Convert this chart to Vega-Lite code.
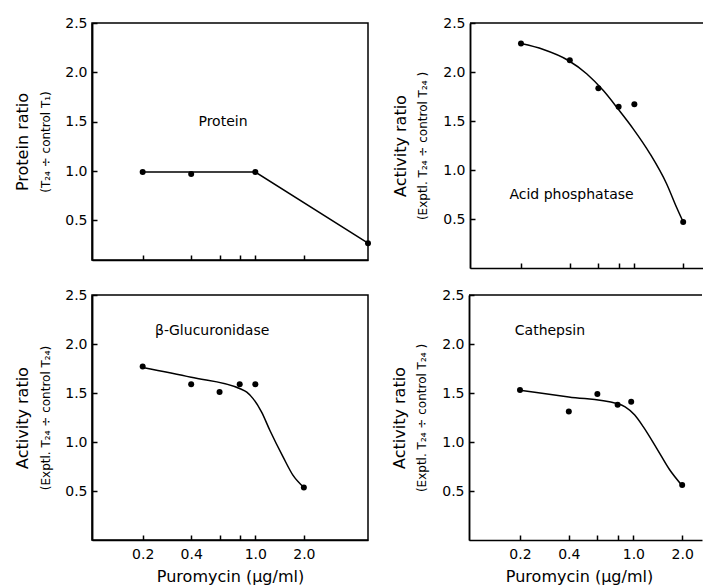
{
  "$schema": "https://vega.github.io/schema/vega-lite/v6.json",
  "background": "white",
  "padding": {"left": 13, "top": 15, "right": 0, "bottom": 2},
  "config": {
    "font": "DejaVu Sans",
    "view": {"stroke": "black", "strokeWidth": 1.5},
    "axis": {
      "grid": false,
      "domainColor": "black",
      "domainWidth": 1.5,
      "tickColor": "black",
      "tickWidth": 1.5,
      "tickSize": -5,
      "labelColor": "black",
      "labelFontSize": 14,
      "labelFont": "DejaVu Sans",
      "titleColor": "black",
      "titleFontSize": 14,
      "titleFontWeight": "normal",
      "titleFont": "DejaVu Sans",
      "minExtent": 0
    },
    "axisX": {"labelPadding": 12, "titleFontSize": 16, "titlePadding": 7},
    "axisY": {"labelPadding": 10}
  },
  "datasets": {
    "points": [
      {"panel": "Protein", "dose": 0.2, "ratio": 0.99},
      {"panel": "Protein", "dose": 0.4, "ratio": 0.97},
      {"panel": "Protein", "dose": 1.0, "ratio": 0.99},
      {"panel": "Protein", "dose": 5.0, "ratio": 0.27},
      {"panel": "Acid", "dose": 0.2, "ratio": 2.29},
      {"panel": "Acid", "dose": 0.4, "ratio": 2.12},
      {"panel": "Acid", "dose": 0.6, "ratio": 1.835},
      {"panel": "Acid", "dose": 0.8, "ratio": 1.645},
      {"panel": "Acid", "dose": 1.0, "ratio": 1.67},
      {"panel": "Acid", "dose": 2.0, "ratio": 0.47},
      {"panel": "Gluc", "dose": 0.2, "ratio": 1.77},
      {"panel": "Gluc", "dose": 0.4, "ratio": 1.59},
      {"panel": "Gluc", "dose": 0.6, "ratio": 1.51},
      {"panel": "Gluc", "dose": 0.8, "ratio": 1.59},
      {"panel": "Gluc", "dose": 1.0, "ratio": 1.59},
      {"panel": "Gluc", "dose": 2.0, "ratio": 0.535},
      {"panel": "Cath", "dose": 0.2, "ratio": 1.53},
      {"panel": "Cath", "dose": 0.4, "ratio": 1.31},
      {"panel": "Cath", "dose": 0.6, "ratio": 1.49},
      {"panel": "Cath", "dose": 0.8, "ratio": 1.38},
      {"panel": "Cath", "dose": 0.97, "ratio": 1.41},
      {"panel": "Cath", "dose": 2.0, "ratio": 0.56}
    ],
    "curves": [
      {"panel": "Protein", "dose": 0.2, "ratio": 0.99},
      {"panel": "Protein", "dose": 1.0, "ratio": 0.99},
      {"panel": "Protein", "dose": 5.0, "ratio": 0.27},
      {"panel": "Acid", "dose": 0.2, "ratio": 2.29},
      {"panel": "Acid", "dose": 0.275, "ratio": 2.23},
      {"panel": "Acid", "dose": 0.39, "ratio": 2.12},
      {"panel": "Acid", "dose": 0.51, "ratio": 1.98},
      {"panel": "Acid", "dose": 0.644, "ratio": 1.81},
      {"panel": "Acid", "dose": 0.796, "ratio": 1.62},
      {"panel": "Acid", "dose": 0.984, "ratio": 1.42},
      {"panel": "Acid", "dose": 1.25, "ratio": 1.165},
      {"panel": "Acid", "dose": 1.58, "ratio": 0.86},
      {"panel": "Acid", "dose": 1.82, "ratio": 0.62},
      {"panel": "Acid", "dose": 2.0, "ratio": 0.47},
      {"panel": "Gluc", "dose": 0.2, "ratio": 1.76},
      {"panel": "Gluc", "dose": 0.4, "ratio": 1.66},
      {"panel": "Gluc", "dose": 0.805, "ratio": 1.543},
      {"panel": "Gluc", "dose": 0.885, "ratio": 1.508},
      {"panel": "Gluc", "dose": 0.971, "ratio": 1.44},
      {"panel": "Gluc", "dose": 1.094, "ratio": 1.305},
      {"panel": "Gluc", "dose": 1.23, "ratio": 1.12},
      {"panel": "Gluc", "dose": 1.486, "ratio": 0.848},
      {"panel": "Gluc", "dose": 1.71, "ratio": 0.662},
      {"panel": "Gluc", "dose": 2.0, "ratio": 0.537},
      {"panel": "Cath", "dose": 0.2, "ratio": 1.528},
      {"panel": "Cath", "dose": 0.4, "ratio": 1.46},
      {"panel": "Cath", "dose": 0.79, "ratio": 1.393},
      {"panel": "Cath", "dose": 0.89, "ratio": 1.359},
      {"panel": "Cath", "dose": 1.02, "ratio": 1.275},
      {"panel": "Cath", "dose": 1.15, "ratio": 1.157},
      {"panel": "Cath", "dose": 1.39, "ratio": 0.938},
      {"panel": "Cath", "dose": 1.67, "ratio": 0.719},
      {"panel": "Cath", "dose": 1.97, "ratio": 0.567}
    ],
    "labels": [
      {"panel": "Protein", "dose": 0.63, "ratio": 1.5, "label": "Protein"},
      {"panel": "Acid", "dose": 0.41, "ratio": 0.75, "label": "Acid  phosphatase"},
      {"panel": "Gluc", "dose": 0.54, "ratio": 2.13, "label": "β-Glucuronidase"},
      {"panel": "Cath", "dose": 0.306, "ratio": 2.13, "label": "Cathepsin"}
    ],
    "frame": [
      {"edge": "top", "ratio": 2.5}
    ]
  },
  "vconcat": [
    {
      "hconcat": [
        {
          "width": 276,
          "height": 237,
          "resolve": {"axis": {"y": "independent"}},
          "layer": [
            {
              "data": {"name": "curves"},
              "transform": [{"filter": "datum.panel == 'Protein'"}],
              "mark": {"type": "line", "color": "black", "strokeWidth": 1.5, "interpolate": "linear"},
              "encoding": {
                "x": {"field": "dose", "type": "quantitative", "scale": {"type": "log", "domain": [0.097, 5], "nice": false}, "axis": {"values": [0.2, 0.4, 0.6, 0.8, 1, 2], "labels": false, "title": null}},
                "y": {"field": "ratio", "type": "quantitative", "scale": {"domain": [0.1, 2.5], "nice": false, "zero": false}, "axis": {"orient": "left", "values": [0.5, 1, 1.5, 2, 2.5], "format": ".1f", "title": "(T₂₄ ÷ control T₁)", "titleFontSize": 12, "titlePadding": 12}}
              }
            },
            {
              "data": {"name": "points"},
              "transform": [{"filter": "datum.panel == 'Protein'"}],
              "mark": {"type": "circle", "color": "black", "size": 36, "opacity": 1},
              "encoding": {
                "x": {"field": "dose", "type": "quantitative"},
                "y": {"field": "ratio", "type": "quantitative", "axis": null}
              }
            },
            {
              "data": {"name": "labels"},
              "transform": [{"filter": "datum.panel == 'Protein'"}],
              "mark": {"type": "text", "fontSize": 14, "color": "black"},
              "encoding": {
                "x": {"field": "dose", "type": "quantitative"},
                "y": {"field": "ratio", "type": "quantitative", "axis": {"orient": "left", "labels": false, "ticks": false, "domain": true, "title": "Protein ratio", "titleFontSize": 16, "titlePadding": 62}},
                "text": {"field": "label"}
              }
            }
          ]
        },
        {
          "width": 233,
          "height": 245,
          "view": {"stroke": null},
          "resolve": {"axis": {"y": "independent"}},
          "layer": [
            {
              "data": {"name": "curves"},
              "transform": [{"filter": "datum.panel == 'Acid'"}],
              "mark": {"type": "line", "color": "black", "strokeWidth": 1.5, "interpolate": "monotone"},
              "encoding": {
                "x": {"field": "dose", "type": "quantitative", "scale": {"type": "log", "domain": [0.097, 2.65], "nice": false}, "axis": {"values": [0.2, 0.4, 0.6, 0.8, 1, 2], "labels": false, "title": null}},
                "y": {"field": "ratio", "type": "quantitative", "scale": {"domain": [0, 2.5], "nice": false, "zero": false}, "axis": {"orient": "left", "values": [0.5, 1, 1.5, 2, 2.5], "format": ".1f", "title": "(Exptl. T₂₄ ÷ control T₂₄ )", "titleFontSize": 12, "titlePadding": 13}}
              }
            },
            {
              "data": {"name": "points"},
              "transform": [{"filter": "datum.panel == 'Acid'"}],
              "mark": {"type": "circle", "color": "black", "size": 36, "opacity": 1},
              "encoding": {
                "x": {"field": "dose", "type": "quantitative"},
                "y": {"field": "ratio", "type": "quantitative", "axis": null}
              }
            },
            {
              "data": {"name": "labels"},
              "transform": [{"filter": "datum.panel == 'Acid'"}],
              "mark": {"type": "text", "fontSize": 14, "color": "black"},
              "encoding": {
                "x": {"field": "dose", "type": "quantitative"},
                "y": {"field": "ratio", "type": "quantitative", "axis": {"orient": "left", "labels": false, "ticks": false, "domain": true, "title": "Activity ratio", "titleFontSize": 16, "titlePadding": 62}},
                "text": {"field": "label"}
              }
            },
            {
              "data": {"name": "frame"},
              "mark": {"type": "rule", "color": "black", "strokeWidth": 1.5},
              "encoding": {
                "y": {"field": "ratio", "type": "quantitative", "axis": null}
              }
            }
          ]
        }
      ],
      "spacing": 20
    },
    {
      "hconcat": [
        {
          "width": 276,
          "height": 245,
          "resolve": {"axis": {"y": "independent"}},
          "layer": [
            {
              "data": {"name": "curves"},
              "transform": [{"filter": "datum.panel == 'Gluc'"}],
              "mark": {"type": "line", "color": "black", "strokeWidth": 1.5, "interpolate": "monotone"},
              "encoding": {
                "x": {"field": "dose", "type": "quantitative", "scale": {"type": "log", "domain": [0.097, 5], "nice": false}, "axis": {"values": [0.2, 0.4, 0.6, 0.8, 1, 2], "labelExpr": "datum.value == 0.6 || datum.value == 0.8 ? '' : format(datum.value, '.1f')", "title": "Puromycin (μg/ml)"}},
                "y": {"field": "ratio", "type": "quantitative", "scale": {"domain": [0, 2.5], "nice": false, "zero": false}, "axis": {"orient": "left", "values": [0.5, 1, 1.5, 2, 2.5], "format": ".1f", "title": "(Exptl. T₂₄ ÷ control T₂₄)", "titleFontSize": 12, "titlePadding": 12}}
              }
            },
            {
              "data": {"name": "points"},
              "transform": [{"filter": "datum.panel == 'Gluc'"}],
              "mark": {"type": "circle", "color": "black", "size": 36, "opacity": 1},
              "encoding": {
                "x": {"field": "dose", "type": "quantitative"},
                "y": {"field": "ratio", "type": "quantitative", "axis": null}
              }
            },
            {
              "data": {"name": "labels"},
              "transform": [{"filter": "datum.panel == 'Gluc'"}],
              "mark": {"type": "text", "fontSize": 14, "color": "black"},
              "encoding": {
                "x": {"field": "dose", "type": "quantitative"},
                "y": {"field": "ratio", "type": "quantitative", "axis": {"orient": "left", "labels": false, "ticks": false, "domain": true, "title": "Activity ratio", "titleFontSize": 16, "titlePadding": 62}},
                "text": {"field": "label"}
              }
            }
          ]
        },
        {
          "width": 233,
          "height": 245,
          "view": {"stroke": null},
          "resolve": {"axis": {"y": "independent"}},
          "layer": [
            {
              "data": {"name": "curves"},
              "transform": [{"filter": "datum.panel == 'Cath'"}],
              "mark": {"type": "line", "color": "black", "strokeWidth": 1.5, "interpolate": "monotone"},
              "encoding": {
                "x": {"field": "dose", "type": "quantitative", "scale": {"type": "log", "domain": [0.097, 2.65], "nice": false}, "axis": {"values": [0.2, 0.4, 0.6, 0.8, 1, 2], "labelExpr": "datum.value == 0.6 || datum.value == 0.8 ? '' : format(datum.value, '.1f')", "title": "Puromycin (μg/ml)", "titleX": 110}},
                "y": {"field": "ratio", "type": "quantitative", "scale": {"domain": [0, 2.5], "nice": false, "zero": false}, "axis": {"orient": "left", "values": [0.5, 1, 1.5, 2, 2.5], "format": ".1f", "title": "(Exptl. T₂₄ ÷ control T₂₄ )", "titleFontSize": 12, "titlePadding": 13}}
              }
            },
            {
              "data": {"name": "points"},
              "transform": [{"filter": "datum.panel == 'Cath'"}],
              "mark": {"type": "circle", "color": "black", "size": 36, "opacity": 1},
              "encoding": {
                "x": {"field": "dose", "type": "quantitative"},
                "y": {"field": "ratio", "type": "quantitative", "axis": null}
              }
            },
            {
              "data": {"name": "labels"},
              "transform": [{"filter": "datum.panel == 'Cath'"}],
              "mark": {"type": "text", "fontSize": 14, "color": "black"},
              "encoding": {
                "x": {"field": "dose", "type": "quantitative"},
                "y": {"field": "ratio", "type": "quantitative", "axis": {"orient": "left", "labels": false, "ticks": false, "domain": true, "title": "Activity ratio", "titleFontSize": 16, "titlePadding": 62}},
                "text": {"field": "label"}
              }
            },
            {
              "data": {"name": "frame"},
              "mark": {"type": "rule", "color": "black", "strokeWidth": 1.5},
              "encoding": {
                "y": {"field": "ratio", "type": "quantitative", "axis": null}
              }
            }
          ]
        }
      ],
      "spacing": 22
    }
  ],
  "spacing": 18
}
